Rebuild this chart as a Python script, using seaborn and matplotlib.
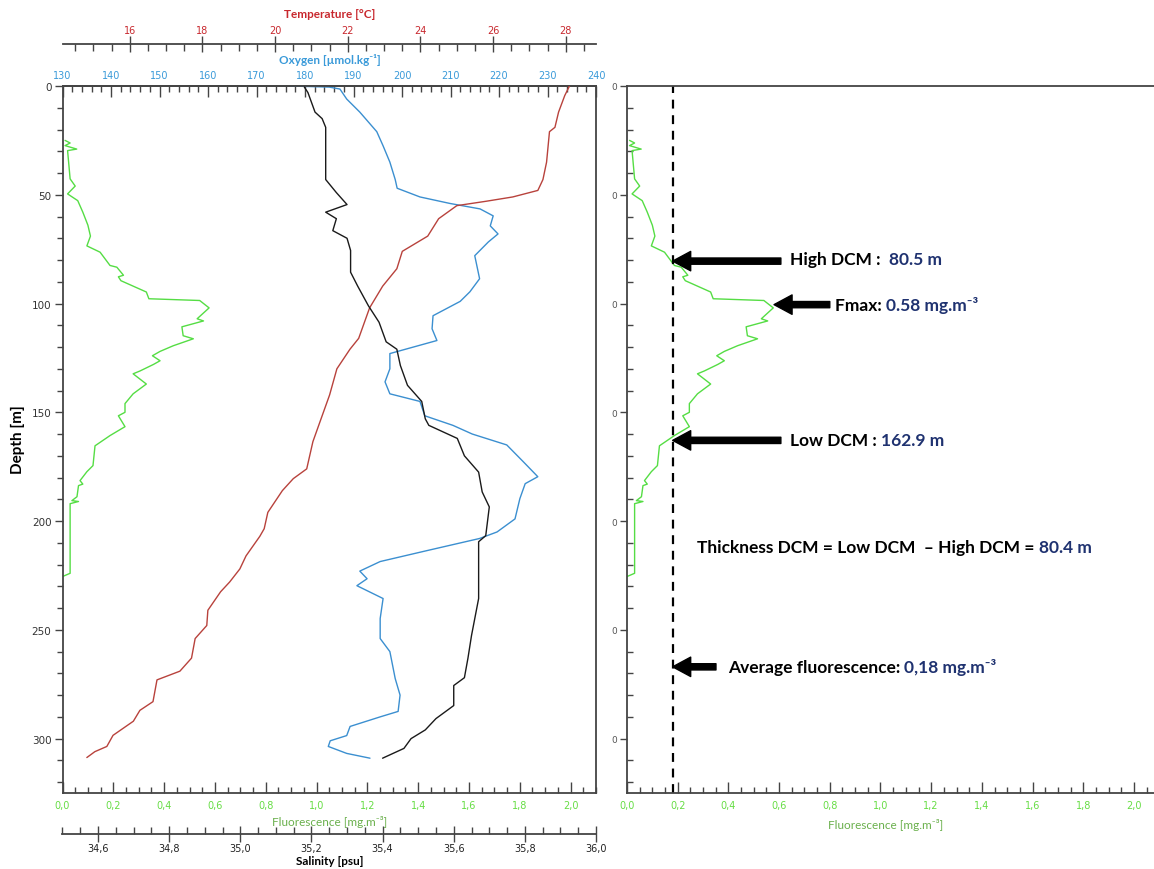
import numpy as np
import pandas as pd
import matplotlib
matplotlib.use("Agg")
import matplotlib.pyplot as plt
import matplotlib.ticker as mticker
import matplotlib.transforms as mtransforms
import seaborn as sns

# CTD profile (depth in m)
temp_depth = [0, 4.4, 12, 19, 21, 35, 43, 48, 51, 53, 55, 61, 69, 76, 84, 92, 102, 116, 121, 130,
              142, 156, 163.5, 176, 180.5, 186, 196, 203.5, 207, 216, 222, 228, 232.5, 241, 248, 254,
              263, 269, 273, 283, 287, 292, 298.5, 303.6, 306, 308.7]
temp_vals = [28.1, 27.97, 27.8, 27.7, 27.55, 27.47, 27.37, 27.23, 26.54, 25.8, 25.0, 24.5, 24.2, 23.5,
             23.35, 22.96, 22.6, 22.3, 22.06, 21.7, 21.5, 21.2, 21.04, 20.87, 20.5, 20.2, 19.8, 19.7,
             19.58, 19.2, 19.03, 18.75, 18.5, 18.15, 18.12, 17.8, 17.7, 17.38, 16.75, 16.64, 16.28,
             16.1, 15.54, 15.37, 15.04, 14.82]

sal_depth = [0.5, 3, 7.5, 12, 15, 19, 27.5, 43, 49, 54.5, 58, 61, 66.5, 70, 75.6, 85.6, 92, 101,
             108.6, 117.6, 121, 128.5, 137.6, 145, 153, 156, 162, 170, 177.5, 186.6, 193.5, 206.7,
             209.5, 223, 235.6, 252.6, 263, 272, 275.6, 284.8, 290.8, 296, 300, 304.5, 309]
sal_vals = [35.18, 35.19, 35.2, 35.21, 35.23, 35.24, 35.24, 35.24, 35.27, 35.3, 35.24, 35.27, 35.26,
            35.3, 35.31, 35.31, 35.33, 35.36, 35.39, 35.41, 35.44, 35.45, 35.47, 35.51, 35.52, 35.53,
            35.61, 35.63, 35.67, 35.68, 35.7, 35.69, 35.67, 35.67, 35.67, 35.65, 35.64, 35.63, 35.6,
            35.6, 35.55, 35.52, 35.48, 35.46, 35.4]

oxy_depth = [0, 0.5, 1.4, 6, 12, 21, 27.5, 35, 43, 47, 51, 54, 56.5, 59.7, 64.3, 68, 71.7, 78, 88.6,
             94.6, 99, 105.6, 111.6, 117, 121.7, 123, 130, 136, 141.5, 145, 151.6, 156, 160, 165,
             172.7, 179.6, 182.8, 189.7, 199, 205, 208, 213.6, 218.6, 223, 226.5, 229.7, 235.6,
             244.8, 254, 260, 272.4, 280, 287.5, 290, 294.4, 298.6, 301, 303.6, 306.8, 309]
oxy_vals = [176.9, 185, 187.2, 188.6, 191.3, 194.8, 196.1, 197.5, 198.6, 199, 203.7, 209.9, 216.1,
            218.8, 218.2, 219.8, 217.8, 215, 216, 214, 212, 206.4, 206.2, 207.2, 199.6, 197.5, 197.5,
            196.5, 197.5, 203.7, 204.7, 210.5, 214.5, 221.6, 225, 228, 225.4, 224.3, 223.3, 219.6,
            216, 205.1, 195.5, 191.3, 192.8, 190.7, 196.1, 195.5, 195.5, 197.5, 198.6, 199.6, 199.2,
            195.5, 189.3, 188.6, 185.2, 184.8, 188.6, 193.4]

fl_depth = [25, 26.2, 27.4, 29, 29.7, 42.7, 46, 49.6, 52.7, 58, 64, 69, 73.5, 76.4, 82.5, 83.3, 87,
            87.7, 89.5, 94.7, 97.8, 98.6, 102, 107, 108, 110.7, 114.8, 116.2, 119.4, 122, 124, 126.3,
            128, 131, 132.3, 137, 141.5, 146, 150, 151.6, 156.6, 160.7, 165.4, 174.5, 177.3, 181.4,
            183, 183.7, 188.8, 190.6, 191, 192, 224, 225.5]
fl_vals = [0.01, 0.03, 0.01, 0.056, 0.02, 0.03, 0.05, 0.02, 0.06, 0.08, 0.10, 0.11, 0.096, 0.148,
           0.187, 0.214, 0.24, 0.22, 0.23, 0.33, 0.34, 0.54, 0.577, 0.53, 0.555, 0.47, 0.475, 0.515,
           0.436, 0.384, 0.354, 0.384, 0.358, 0.305, 0.278, 0.33, 0.278, 0.246, 0.246, 0.22, 0.246,
           0.187, 0.128, 0.12, 0.096, 0.069, 0.08, 0.063, 0.057, 0.037, 0.063, 0.03, 0.03, 0.0]

# DCM metrics
high_dcm = 80.5
low_dcm = 162.9
thickness_dcm = 80.4
fmax = 0.58
fmax_depth = 100.5
avg_fluo = 0.18
avg_label_depth = 267

sns.set_style("ticks")
plt.rcParams['font.family'] = ['DejaVu Sans']

RED, RED_T = '#b8423c', '#c8282e'
BLUE, BLUE_T = '#3b8fd0', '#3a9ad9'
GREEN, GREEN_T, GREEN_L = '#55dd44', '#6ab04c', '#66dd44'
NAVY = '#1f3270'
SPINE = '#444444'
LBL = ['Lato', 'DejaVu Sans']

W, H = 1154, 870
fig = plt.figure(figsize=(W / 100, H / 100), dpi=100)


def px_box(x0, y0, x1, y1):
    return [x0 / W, 1 - y1 / H, (x1 - x0) / W, (y1 - y0) / H]


def comma(v, p):
    return f"{v:.1f}".replace('.', ',')


ax = fig.add_axes(px_box(62.5, 87, 596, 794))
ax_r = fig.add_axes(px_box(627, 87, 1154, 794))

# --- left panel: four profiles
sns.lineplot(x=fl_vals, y=fl_depth, sort=False, estimator=None, color=GREEN, lw=1, ax=ax)
ax_o = ax.twiny()
sns.lineplot(x=oxy_vals, y=oxy_depth, sort=False, estimator=None, color=BLUE, lw=1, ax=ax_o)
ax_t = ax.twiny()
sns.lineplot(x=temp_vals, y=temp_depth, sort=False, estimator=None, color=RED, lw=1, ax=ax_t)
ax_s = ax.twiny()
sns.lineplot(x=sal_vals, y=sal_depth, sort=False, estimator=None, color='#1a1a1a', lw=1, ax=ax_s)

ax.set_ylim(325, 0)
ax.set_xlim(0, 2.1)
ax_o.set_xlim(130, 240)
ax_t.set_xlim(14.15, 28.83)
ax_s.set_xlim(34.5, 36.0)

for a in (ax, ax_o, ax_t, ax_s):
    a.set_xlabel('')
    a.set_ylabel('')
    for s in a.spines.values():
        s.set_color(SPINE)
        s.set_linewidth(1.3)

# fluorescence (bottom)
ax.xaxis.set_major_locator(mticker.MultipleLocator(0.2))
ax.xaxis.set_minor_locator(mticker.MultipleLocator(0.05))
ax.xaxis.set_major_formatter(mticker.FuncFormatter(comma))
ax.tick_params(axis='x', which='major', direction='in', length=8, width=1, color=SPINE,
               labelcolor=GREEN_L, labelsize=7, pad=5)
ax.tick_params(axis='x', which='minor', direction='in', length=4, width=1, color=SPINE)
# depth (left)
ax.yaxis.set_major_locator(mticker.MultipleLocator(50))
ax.yaxis.set_minor_locator(mticker.MultipleLocator(10))
ax.tick_params(axis='y', which='major', direction='out', length=6, width=1, color=SPINE,
               labelcolor='#333333', labelsize=7.5, pad=2)
ax.tick_params(axis='y', which='minor', direction='out', length=4, width=1, color=SPINE)

# oxygen (top of frame)
ax_o.xaxis.set_major_locator(mticker.MultipleLocator(10))
ax_o.xaxis.set_minor_locator(mticker.MultipleLocator(2))
ax_o.tick_params(axis='x', which='major', direction='in', length=8, width=1, color=SPINE,
                 labelcolor=BLUE_T, labelsize=7, pad=4)
ax_o.tick_params(axis='x', which='minor', direction='in', length=4, width=1, color=SPINE)
for k in ('left', 'right', 'bottom'):
    ax_o.spines[k].set_visible(False)

# temperature (top, offset)
ax_t.spines['top'].set_position(('axes', 1 + 42 / 707))
for k in ('left', 'right', 'bottom'):
    ax_t.spines[k].set_visible(False)
ax_t.xaxis.set_major_locator(mticker.MultipleLocator(2))
ax_t.xaxis.set_minor_locator(mticker.MultipleLocator(0.5))
ax_t.xaxis.set_major_formatter(mticker.FormatStrFormatter('%d'))
ax_t.tick_params(axis='x', which='major', direction='inout', length=11, width=1, color=SPINE,
                 labelcolor=RED_T, labelsize=7, pad=1)
ax_t.tick_params(axis='x', which='minor', direction='in', length=5, width=1, color=SPINE)

# salinity (bottom, offset)
ax_s.xaxis.set_ticks_position('bottom')
ax_s.spines['bottom'].set_position(('axes', -41 / 707))
for k in ('left', 'right', 'top'):
    ax_s.spines[k].set_visible(False)
ax_s.xaxis.set_major_locator(mticker.MultipleLocator(0.2))
ax_s.xaxis.set_minor_locator(mticker.MultipleLocator(0.05))
ax_s.xaxis.set_major_formatter(mticker.FuncFormatter(comma))
ax_s.tick_params(axis='x', which='major', direction='inout', length=11, width=1, color=SPINE,
                 labelcolor='#222222', labelsize=7, pad=1)
ax_s.tick_params(axis='x', which='minor', direction='in', length=5, width=1, color=SPINE)

# --- right panel: fluorescence with DCM metrics
sns.lineplot(x=fl_vals, y=fl_depth, sort=False, estimator=None, color=GREEN, lw=1, ax=ax_r)
ax_r.set_ylim(325, 0)
ax_r.set_xlim(0, 2.079)
ax_r.set_xlabel('')
ax_r.set_ylabel('')
ax_r.spines['right'].set_visible(False)
for s in ('left', 'top', 'bottom'):
    ax_r.spines[s].set_color(SPINE)
    ax_r.spines[s].set_linewidth(1.3)
ax_r.xaxis.set_major_locator(mticker.MultipleLocator(0.2))
ax_r.xaxis.set_minor_locator(mticker.MultipleLocator(0.05))
ax_r.xaxis.set_major_formatter(mticker.FuncFormatter(comma))
ax_r.tick_params(axis='x', which='major', direction='in', length=8, width=1, color=SPINE,
                 labelcolor=GREEN_L, labelsize=7, pad=5)
ax_r.tick_params(axis='x', which='minor', direction='in', length=4, width=1, color=SPINE)
ax_r.yaxis.set_major_locator(mticker.MultipleLocator(50))
ax_r.yaxis.set_minor_locator(mticker.MultipleLocator(10))
ax_r.yaxis.set_major_formatter(mticker.FuncFormatter(lambda v, p: '0'))
ax_r.tick_params(axis='y', which='major', direction='out', length=5, width=1, color=SPINE,
                 labelcolor='#555555', labelsize=6.5, pad=2)
ax_r.tick_params(axis='y', which='minor', direction='in', length=4, width=1, color=SPINE)

ax_r.axvline(avg_fluo, color='black', ls=(0, (4, 3)), lw=1.6)

arrow = dict(facecolor='black', edgecolor='black', width=4.5, headwidth=14, headlength=13, shrink=0)
ax_r.annotate('', xy=(avg_fluo, high_dcm), xytext=(0.607, high_dcm), arrowprops=arrow)
ax_r.annotate('', xy=(fmax, fmax_depth), xytext=(0.80, fmax_depth), arrowprops=arrow)
ax_r.annotate('', xy=(avg_fluo, low_dcm), xytext=(0.607, low_dcm), arrowprops=arrow)
ax_r.annotate('', xy=(avg_fluo, avg_label_depth), xytext=(0.351, avg_label_depth), arrowprops=arrow)

renderer = fig.canvas.get_renderer()


def two_tone(x, y, black_part, navy_part, size=12.5):
    t1 = ax_r.text(x, y, black_part, family=LBL, weight='bold', fontsize=size,
                   color='black', va='center')
    w = t1.get_window_extent(renderer).width
    off = mtransforms.ScaledTranslation(w / fig.dpi, 0, fig.dpi_scale_trans)
    ax_r.text(x, y, navy_part, family=LBL, weight='bold', fontsize=size, color=NAVY,
              va='center', transform=ax_r.transData + off)


two_tone(0.643, high_dcm - 1, 'High DCM :  ', f'{high_dcm} m')
two_tone(0.82, fmax_depth, 'Fmax: ', f'{fmax} mg.m\u207b\u00b3')
two_tone(0.643, low_dcm, 'Low DCM : ', f'{low_dcm} m')
two_tone(0.276, 211.8, 'Thickness DCM = Low DCM  \u2013 High DCM = ', f'{thickness_dcm} m')
two_tone(0.398, avg_label_depth, 'Average fluorescence: ',
         f'{avg_fluo:.2f}'.replace('.', ',') + ' mg.m\u207b\u00b3')

# axis titles
fig.text(330 / W, 1 - 14 / H, 'Temperature [°C]', ha='center', va='center', family=LBL,
         weight='bold', fontsize=8.5, color=RED_T)
fig.text(330 / W, 1 - 60 / H, 'Oxygen [µmol.kg\u207b\u00b9]', ha='center', va='center', family=LBL,
         weight='bold', fontsize=8.5, color=BLUE_T)
fig.text(330 / W, 1 - 822 / H, 'Fluorescence [mg.m\u207b\u00b3]', ha='center', va='center',
         family=LBL, fontsize=8.5, color=GREEN_T)
fig.text(330 / W, 1 - 862 / H, 'Salinity [psu]', ha='center', va='center', family=LBL,
         weight='bold', fontsize=8.5, color='black')
fig.text(886 / W, 1 - 825 / H, 'Fluorescence [mg.m\u207b\u00b3]', ha='center', va='center',
         family=LBL, fontsize=8.5, color=GREEN_T)
fig.text(18 / W, 1 - 440 / H, 'Depth [m]', ha='center', va='center', rotation=90, family=LBL,
         weight='bold', fontsize=11, color='black')

fig.savefig('out.png', dpi=100)
